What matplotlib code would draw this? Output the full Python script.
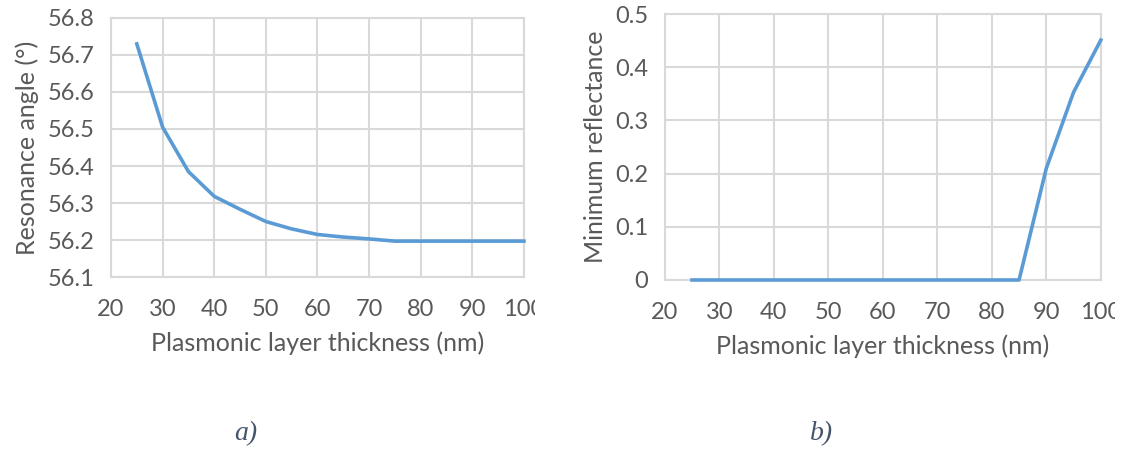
import numpy as np
import matplotlib.pyplot as plt
import matplotlib as mpl
from matplotlib.transforms import Bbox, TransformedBbox

mpl.rcParams.update({'font.family': ['Lato', 'DejaVu Sans'], 'font.size': 17})
LINE = '#5B9BD5'; GRID = '#D9D9D9'; TXT = '#595959'; CAP = '#44546A'

# data
thick_a = [25, 30, 35, 40, 45, 50, 55, 60, 65, 70, 75, 80, 85, 90, 95, 100]
angle = [56.73, 56.505, 56.385, 56.318, 56.283, 56.25, 56.23, 56.215,
         56.208, 56.203, 56.197, 56.197, 56.197, 56.197, 56.197, 56.197]
thick_b = [25, 30, 35, 40, 45, 50, 55, 60, 65, 70, 75, 80, 85, 90, 95, 100]
refl = [0, 0, 0, 0, 0, 0, 0, 0, 0, 0, 0, 0, 0, 0.21, 0.353, 0.451]
xticks = [20, 30, 40, 50, 60, 70, 80, 90, 100]

fig = plt.figure(figsize=(11.21, 4.49), dpi=100)
ax1 = fig.add_axes([0.099, 0.383, 0.3684, 0.577])
ax2 = fig.add_axes([0.593, 0.3764, 0.389, 0.5924])

def style(ax, yt, ylabel, clipx):
    ax.set_xlim(20, 100); ax.set_xticks(xticks)
    ax.set_ylim(yt[0], yt[-1]); ax.set_yticks(yt)
    ax.grid(True, color=GRID, lw=1.5); ax.set_axisbelow(True)
    for s in ax.spines.values():
        s.set_color(GRID); s.set_linewidth(1.5); s.set_zorder(1)
    ax.tick_params(axis='x', length=0, colors=TXT, labelsize=17, pad=16)
    ax.tick_params(axis='y', length=0, colors=TXT, labelsize=17, pad=12)
    ax.set_xlabel('Plasmonic layer thickness (nm)', color=TXT, fontsize=18, labelpad=8)
    ax.set_ylabel(ylabel, color=TXT, fontsize=18, labelpad=6)
    cb = TransformedBbox(Bbox([[0, 0], [clipx, 1]]), fig.transFigure)
    for lab in ax.get_xticklabels():
        lab.set_clip_box(cb); lab.set_clip_on(True)

ax1.plot(thick_a, angle, color=LINE, lw=2.6, zorder=3, clip_on=False)
style(ax1, [56.1, 56.2, 56.3, 56.4, 56.5, 56.6, 56.7, 56.8], 'Resonance angle (°)', 0.477)
ax1.set_yticklabels(['56.1', '56.2', '56.3', '56.4', '56.5', '56.6', '56.7', '56.8'])

ax2.plot(thick_b, refl, color=LINE, lw=2.6, zorder=3, clip_on=False)
style(ax2, [0, 0.1, 0.2, 0.3, 0.4, 0.5], 'Minimum reflectance', 0.995)
ax2.set_yticklabels(['0', '0.1', '0.2', '0.3', '0.4', '0.5'])

fig.text(0.219, 0.02, 'a)', fontsize=20, style='italic', family='Liberation Serif', color=CAP, ha='center')
fig.text(0.733, 0.02, 'b)', fontsize=20, style='italic', family='Liberation Serif', color=CAP, ha='center')

plt.savefig('out.png', dpi=100)
